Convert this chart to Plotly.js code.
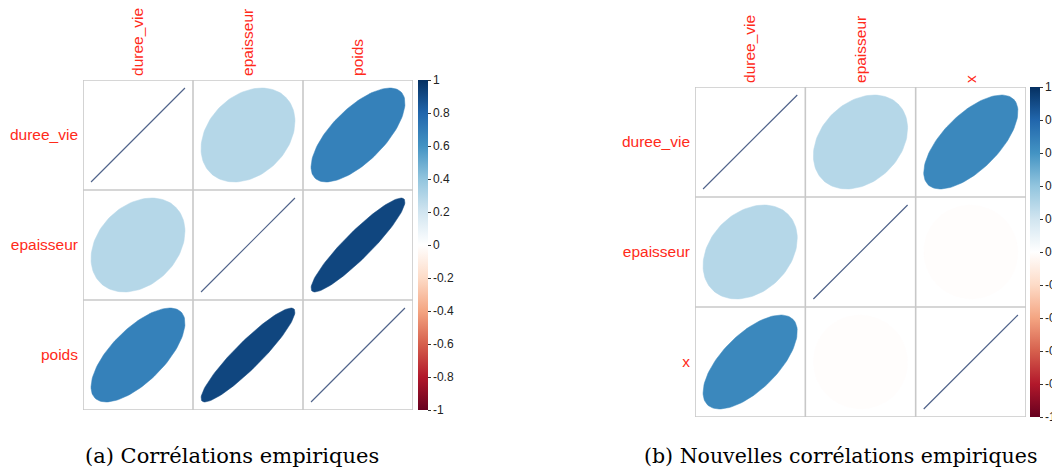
<!DOCTYPE html>
<html><head><meta charset="utf-8">
<script src="https://cdn.plot.ly/plotly-3.0.1.min.js"></script>
<style>html,body{margin:0;padding:0;background:#fff}#chart{width:1052px;height:469px}</style>
</head><body><div id="chart"></div>
<script>
// ---- data ----
const varsA = ['duree_vie', 'epaisseur', 'poids'];
const corrA = [
  [1.00, 0.29, 0.68],
  [0.29, 1.00, 0.92],
  [0.68, 0.92, 1.00]
];
const varsB = ['duree_vie', 'epaisseur', 'x'];
const corrB = [
  [1.00, 0.29, 0.65],
  [0.29, 1.00, -0.01],
  [0.65, -0.01, 1.00]
];
const captionA = '(a) Corrélations empiriques';
const captionB = '(b) Nouvelles corrélations empiriques';
const cbTickVals = [1, 0.8, 0.6, 0.4, 0.2, 0, -0.2, -0.4, -0.6, -0.8, -1];
const cbTickText = ['1', '0.8', '0.6', '0.4', '0.2', '0', '-0.2', '-0.4', '-0.6', '-0.8', '-1'];

// ---- style ----
const palette = ['#67001F','#B2182B','#D6604D','#F4A582','#FDDBC7','#FFFFFF','#D1E5F0','#92C5DE','#4393C3','#2166AC','#053061'];
const colorscale = palette.map((c, i) => [i / (palette.length - 1), c]);
function hex2rgb(h){return [1,3,5].map(k=>parseInt(h.substr(k,2),16));}
function colorFor(r){
  const p = (r + 1) / 2 * (palette.length - 1);
  const i = Math.min(Math.floor(p), palette.length - 2);
  const f = p - i;
  const a = hex2rgb(palette[i]), b = hex2rgb(palette[i+1]);
  const m = a.map((v, k) => Math.round(v + (b[k] - v) * f));
  return 'rgb(' + m.join(',') + ')';
}
const W = 1052, H = 469;
const SANS = 'Arial, "Liberation Sans", sans-serif';
const panels = [
  {vars: varsA, corr: corrA, x0: 83, x1: 413, y0: 80, y1: 410, xa: 'x', ya: 'y', cbx: 418},
  {vars: varsB, corr: corrB, x0: 695, x1: 1026, y0: 87, y1: 417, xa: 'x2', ya: 'y2', cbx: 1030}
];
const S = 0.427;
const traces = [];
const shapes = [];
const layout = {
  width: W, height: H, margin: {l: 0, r: 0, t: 0, b: 0, autoexpand: false},
  paper_bgcolor: '#fff', plot_bgcolor: '#fff', showlegend: false,
  font: {family: SANS},
  annotations: [], shapes: shapes
};
panels.forEach((P, pi) => {
  const n = P.vars.length;
  const sfx = pi === 0 ? '' : '2';
  layout['xaxis' + sfx] = {
    domain: [P.x0 / W, P.x1 / W], range: [0.5, n + 0.5], side: 'top', automargin: false,
    tickvals: P.vars.map((_, k) => k + 1), ticktext: P.vars, tickangle: -90,
    tickfont: {color: '#FF2A1A', size: 15.5, family: SANS}, ticks: '', showgrid: false, zeroline: false,
    showline: false, fixedrange: true, anchor: 'y' + sfx, ticklabelstandoff: 3
  };
  layout['yaxis' + sfx] = {
    domain: [1 - P.y1 / H, 1 - P.y0 / H], range: [n + 0.5, 0.5], automargin: false,
    tickvals: P.vars.map((_, k) => k + 1), ticktext: P.vars,
    tickfont: {color: '#FF2A1A', size: 15.5, family: SANS}, ticks: '', showgrid: false, zeroline: false,
    showline: false, fixedrange: true, anchor: 'x' + sfx, ticklabelstandoff: 4
  };
  for (let i = 0; i < n; i++) {
    for (let j = 0; j < n; j++) {
      const r = P.corr[i][j];
      const d = Math.acos(Math.max(-1, Math.min(1, r)));
      const xs = [], ys = [];
      for (let k = 0; k <= 120; k++) {
        const t = 2 * Math.PI * k / 120;
        xs.push(j + 1 + S * Math.cos(t + d / 2));
        ys.push(i + 1 - S * Math.cos(t - d / 2));
      }
      if (r >= 0.999) {
        traces.push({type: 'scatter', mode: 'lines', x: xs, y: ys, xaxis: P.xa, yaxis: P.ya,
          line: {color: '#51648B', width: 1.2}, hoverinfo: 'skip'});
      } else {
        const c = colorFor(r);
        traces.push({type: 'scatter', mode: 'lines', x: xs, y: ys, xaxis: P.xa, yaxis: P.ya,
          fill: 'toself', fillcolor: c, line: {color: c, width: 0.5}, hoverinfo: 'skip'});
      }
    }
  }
  for (let k = 0; k <= n; k++) {
    shapes.push({type: 'line', xref: P.xa, yref: P.ya, x0: k + 0.5, x1: k + 0.5, y0: 0.5, y1: n + 0.5,
      line: {color: '#C8C8C8', width: 1.6}});
    shapes.push({type: 'line', xref: P.xa, yref: P.ya, y0: k + 0.5, y1: k + 0.5, x0: 0.5, x1: n + 0.5,
      line: {color: '#C8C8C8', width: 1.6}});
  }
  const cx = [], cy = [], cc = [];
  for (let i = 0; i < n; i++) for (let j = 0; j < n; j++) { cx.push(j + 1); cy.push(i + 1); cc.push(P.corr[i][j]); }
  traces.push({type: 'scatter', mode: 'markers', x: cx, y: cy, xaxis: P.xa, yaxis: P.ya, hoverinfo: 'skip',
    marker: {size: 0.1, opacity: 0, color: cc, cmin: -1, cmax: 1, colorscale: colorscale, showscale: true,
      colorbar: {x: P.cbx / W, xanchor: 'left', xpad: 0, ypad: 0, y: 1 - (P.y0 + P.y1) / 2 / H, yanchor: 'middle',
        len: P.y1 - P.y0, lenmode: 'pixels', thickness: 10, thicknessmode: 'pixels',
        outlinewidth: 0, tickvals: cbTickVals, ticktext: cbTickText,
        ticks: 'outside', ticklen: 3, tickcolor: '#333', tickwidth: 1,
        tickfont: {size: 12, color: '#222', family: SANS}}}
  });
});
layout.annotations.push({xref: 'paper', yref: 'paper', x: 83 / W, y: 1 - 456 / H, xanchor: 'left', yanchor: 'middle',
  text: captionA, showarrow: false, font: {family: 'DejaVu Serif, serif', size: 21, color: '#000'}});
layout.annotations.push({xref: 'paper', yref: 'paper', x: 642 / W, y: 1 - 456 / H, xanchor: 'left', yanchor: 'middle',
  text: captionB, showarrow: false, font: {family: 'DejaVu Serif, serif', size: 20.5, color: '#000'}});
Plotly.newPlot('chart', traces, layout, {displayModeBar: false, staticPlot: true});
</script></body></html>
